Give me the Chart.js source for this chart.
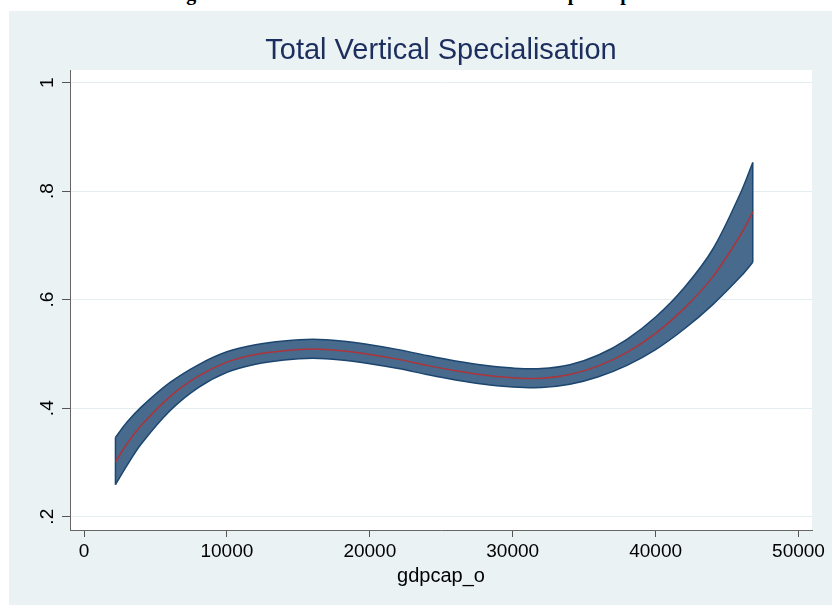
<!DOCTYPE html>
<html><head><meta charset="utf-8">
<script src="https://cdn.jsdelivr.net/npm/chart.js@4/dist/chart.umd.min.js"></script>
<style>
html,body{margin:0;padding:0;background:#fff;width:832px;height:605px;overflow:hidden;position:relative}
#heading{position:absolute;left:-5px;top:-17px;width:832px;text-align:center;font:bold 20px "Liberation Serif";line-height:20px;white-space:nowrap;color:#000}
#panel{position:absolute;left:9px;top:11px;width:823px;height:594px;background:#eaf2f3}
canvas{display:block}
</style></head><body>
<div id="heading">Figure 3: Fitted Total VS and 95% CI on GDP per capita</div>
<div id="panel"><canvas id="c" width="823" height="594"></canvas></div>
<script>
// GDP per capita grid (x)
const gdpcap  = [2200, 3000, 4000, 6000, 8000, 10000, 12000, 14000, 16000, 18000, 20000, 22000, 24000, 26000, 28000, 30000, 32000, 34000, 36000, 38000, 40000, 42000, 44000, 46000, 46800];
// fitted Total Vertical Specialisation
const fitted  = [0.301, 0.334, 0.368, 0.421, 0.459, 0.485, 0.499, 0.506, 0.509, 0.506, 0.499, 0.490, 0.479, 0.469, 0.461, 0.456, 0.455, 0.462, 0.478, 0.503, 0.538, 0.584, 0.642, 0.722, 0.762];
// confidence band
const ciUpper = [0.346, 0.374, 0.402, 0.447, 0.480, 0.504, 0.517, 0.524, 0.527, 0.524, 0.517, 0.508, 0.497, 0.487, 0.479, 0.474, 0.473, 0.480, 0.498, 0.527, 0.568, 0.622, 0.693, 0.800, 0.853];
const ciLower = [0.259, 0.294, 0.334, 0.395, 0.438, 0.466, 0.481, 0.489, 0.492, 0.489, 0.482, 0.473, 0.462, 0.452, 0.444, 0.439, 0.438, 0.444, 0.458, 0.479, 0.508, 0.546, 0.591, 0.644, 0.669];
// tick labels
const xTickValues = [0, 10000, 20000, 30000, 40000, 50000];
const yTickValues = [0.2, 0.4, 0.6, 0.8, 1];

const pts = (ys) => gdpcap.map((x, i) => ({x: x, y: ys[i]}));
const last = gdpcap.length - 1;

const FILL = 'rgb(72,106,140)';
const EDGE = 'rgb(28,70,112)';
const RED  = 'rgb(172,52,58)';

const plotBg = {
  id: 'plotBg',
  beforeDraw(chart) {
    const {ctx, chartArea: a} = chart;
    ctx.save();
    ctx.fillStyle = '#ffffff';
    ctx.fillRect(a.left, a.top, a.right - a.left, a.bottom - a.top);
    ctx.restore();
  }
};

const common = {pointRadius: 0, pointHoverRadius: 0, borderWidth: 1.5, tension: 0.35};

new Chart(document.getElementById('c'), {
  type: 'line',
  data: {
    datasets: [
      Object.assign({label: 'upper', data: pts(ciUpper), borderColor: EDGE, backgroundColor: FILL, fill: '+1', order: 3}, common),
      Object.assign({label: 'lower', data: pts(ciLower), borderColor: EDGE, fill: false, order: 2}, common),
      {label: 'left', data: [{x: gdpcap[0], y: ciLower[0]}, {x: gdpcap[0], y: ciUpper[0]}], borderColor: EDGE, borderWidth: 1.5, pointRadius: 0, tension: 0, fill: false, order: 2},
      {label: 'right', data: [{x: gdpcap[last], y: ciLower[last]}, {x: gdpcap[last], y: ciUpper[last]}], borderColor: EDGE, borderWidth: 1.5, pointRadius: 0, tension: 0, fill: false, order: 2},
      Object.assign({label: 'fitted', data: pts(fitted), borderColor: RED, fill: false, order: 1}, common)
    ]
  },
  options: {
    responsive: false,
    animation: false,
    devicePixelRatio: 1,
    layout: {padding: {left: 0, right: 20, top: 0, bottom: 0}},
    plugins: {
      legend: {display: false},
      tooltip: {enabled: false},
      title: {
        display: true,
        text: 'Total Vertical Specialisation',
        fullSize: false,
        color: '#1c2e5e',
        font: {family: 'Liberation Sans', size: 29, weight: 'normal', lineHeight: 1.2},
        padding: {top: 23, bottom: 1.2}
      }
    },
    scales: {
      x: {
        type: 'linear',
        min: -980, max: 50945,
        afterBuildTicks: (s) => { s.ticks = xTickValues.map(v => ({value: v})); },
        afterFit: (s) => { s.height = 75; },
        grid: {drawOnChartArea: false, drawTicks: true, tickLength: 7, tickColor: '#555', tickWidth: 1},
        border: {display: true, color: '#666', width: 1},
        ticks: {color: '#000', font: {family: 'Liberation Sans', size: 19}, padding: 3, maxRotation: 0, autoSkip: false,
                callback: (v) => String(v)},
        title: {display: true, text: 'gdpcap_o', color: '#000', font: {family: 'Liberation Sans', size: 20}, padding: {top: 0, bottom: 17}}
      },
      y: {
        type: 'linear',
        min: 0.1755, max: 1.0234,
        afterBuildTicks: (s) => { s.ticks = yTickValues.map(v => ({value: v})); },
        afterFit: (s) => { s.width = 61; },
        grid: {color: '#e4eef0', lineWidth: 1, drawTicks: true, tickLength: 8, tickColor: '#555', tickWidth: 1},
        border: {display: true, color: '#666', width: 1},
        ticks: {color: '#000', font: {family: 'Liberation Sans', size: 19}, padding: 6, minRotation: 90, maxRotation: 90,
                crossAlign: 'center', autoSkip: false,
                callback: (v) => String(+v.toFixed(2)).replace(/^0\./, '.')}
      }
    }
  },
  plugins: [plotBg]
});
</script>
</body></html>
